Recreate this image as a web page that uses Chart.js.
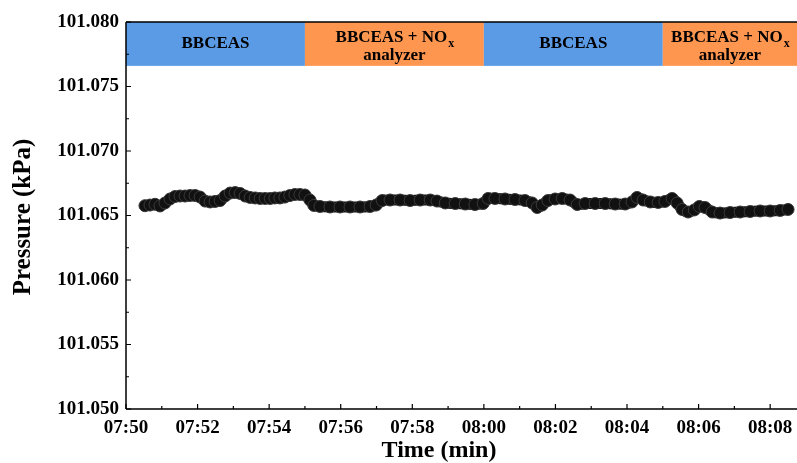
<!DOCTYPE html>
<html>
<head>
<meta charset="utf-8">
<script src="https://cdn.jsdelivr.net/npm/chart.js@4.4.0/dist/chart.umd.min.js"></script>
<style>
  html, body { margin: 0; padding: 0; background: #fff; }
  #wrap { width: 797px; height: 463px; }
</style>
</head>
<body>
<div id="wrap"><canvas id="myChart"></canvas></div>
<script>
// time in minutes after 07:50
var times = [0.53,0.67,0.81,0.95,1.09,1.23,1.37,1.51,1.65,1.79,
             1.93,2.07,2.21,2.35,2.49,2.63,2.77,2.91,3.05,3.19,
             3.33,3.47,3.61,3.75,3.89,4.03,4.16,4.30,4.44,4.58,
             4.72,4.86,5.00,5.14,5.25,5.42,5.70,5.98,6.26,6.54,
             6.82,6.99,7.16,7.38,7.66,7.94,8.22,8.50,8.69,8.92,
             9.20,9.48,9.75,9.98,10.12,10.31,10.59,10.87,11.15,11.35,
             11.49,11.63,11.79,11.99,12.19,12.41,12.61,12.83,13.11,13.39,
             13.67,13.95,14.14,14.28,14.45,14.65,14.87,15.06,15.26,15.40,
             15.54,15.71,15.88,16.02,16.18,16.38,16.60,16.88,17.16,17.44,
             17.72,18.00,18.28,18.50];
// pressure (kPa)
var pressure = [101.06576,101.06581,101.06587,101.06574,101.06597,101.06628,101.06647,101.06651,101.06651,101.06655,
                101.06655,101.06643,101.06612,101.06605,101.06609,101.06616,101.06651,101.06674,101.06678,101.06671,
                101.06651,101.06640,101.06636,101.06632,101.06632,101.06632,101.06636,101.06636,101.06643,101.06655,
                101.06663,101.06663,101.06659,101.06620,101.06578,101.06570,101.06566,101.06566,101.06566,101.06566,
                101.06570,101.06581,101.06616,101.06620,101.06620,101.06616,101.06620,101.06620,101.06612,101.06597,
                101.06593,101.06589,101.06585,101.06593,101.06632,101.06632,101.06628,101.06624,101.06616,101.06597,
                101.06562,101.06581,101.06616,101.06628,101.06632,101.06620,101.06585,101.06593,101.06593,101.06593,
                101.06589,101.06589,101.06605,101.06640,101.06620,101.06605,101.06601,101.06609,101.06632,101.06597,
                101.06547,101.06527,101.06543,101.06570,101.06562,101.06527,101.06519,101.06523,101.06527,101.06531,
                101.06535,101.06535,101.06539,101.06547];

// instrument periods (minutes after 07:50)
var periodStart = [0, 5, 10, 15];
var periodEnd = [5, 10, 15, 18.75];
var periodLabel = ['BBCEAS', 'BBCEAS + NO', 'BBCEAS', 'BBCEAS + NO'];
var periodSub = ['', 'x', '', 'x'];
var periodLine2 = ['', 'analyzer', '', 'analyzer'];
var periodColor = ['#5b9be6', '#ff9650', '#5b9be6', '#ff9650'];

var FONT = "'Liberation Serif', 'Times New Roman', serif";

function fmtTime(v) {
  var m = 50 + v;
  var h = 7 + Math.floor(m / 60);
  m = m % 60;
  return (h < 10 ? '0' : '') + h + ':' + (m < 10 ? '0' : '') + m;
}

var points = times.map(function (t, i) { return {x: t, y: pressure[i]}; });

var decor = {
  id: 'decor',
  beforeDatasetsDraw: function (chart) {
    var c = chart.ctx, xs = chart.scales.x, ys = chart.scales.y, a = chart.chartArea;
    var top = a.top, bot = ys.getPixelForValue(101.0766);
    c.save();
    for (var i = 0; i < periodStart.length; i++) {
      var x0 = xs.getPixelForValue(periodStart[i]);
      var x1 = Math.min(xs.getPixelForValue(periodEnd[i]), a.right);
      c.fillStyle = periodColor[i];
      c.fillRect(x0, top, x1 - x0, bot - top);
      c.fillStyle = '#000';
      c.textBaseline = 'middle';
      var cx = (x0 + x1) / 2;
      c.font = 'bold 17px ' + FONT;
      if (periodLine2[i]) {
        var w1 = c.measureText(periodLabel[i]).width;
        c.font = 'bold 12px ' + FONT;
        var w2 = c.measureText(periodSub[i]).width;
        var sx = cx - (w1 + w2) / 2;
        c.font = 'bold 17px ' + FONT;
        c.textAlign = 'left';
        c.fillText(periodLabel[i], sx, top + 15.5);
        c.font = 'bold 12px ' + FONT;
        c.fillText(periodSub[i], sx + w1 + 1, top + 21.5);
        c.font = 'bold 17px ' + FONT;
        c.textAlign = 'center';
        c.fillText(periodLine2[i], cx, top + 34);
      } else {
        c.textAlign = 'center';
        c.fillText(periodLabel[i], cx, (top + bot) / 2);
      }
    }
    c.restore();
  },
  afterDraw: function (chart) {
    var c = chart.ctx, xs = chart.scales.x, ys = chart.scales.y, a = chart.chartArea;
    c.save();
    c.strokeStyle = '#000';
    c.lineWidth = 1.5;
    c.beginPath();
    c.moveTo(a.left, a.top); c.lineTo(a.right, a.top);
    c.moveTo(a.left, a.top); c.lineTo(a.left, a.bottom);
    c.moveTo(a.left, a.bottom); c.lineTo(a.right, a.bottom);
    c.stroke();
    c.lineWidth = 1.2;
    c.beginPath();
    // x ticks, inward
    for (var m = 0; m <= 18; m++) {
      var px = xs.getPixelForValue(m);
      var len = (m % 2 === 0) ? 5 : 3;
      c.moveTo(px, a.bottom); c.lineTo(px, a.bottom - len);
    }
    // y ticks, inward
    for (var k = 0; k <= 12; k++) {
      var v = 101.050 + k * 0.0025;
      var py = ys.getPixelForValue(v);
      var l2 = (k % 2 === 0) ? 5 : 3;
      c.moveTo(a.left, py); c.lineTo(a.left + l2, py);
    }
    c.stroke();
    // axis titles
    c.fillStyle = '#000';
    c.textAlign = 'center';
    c.textBaseline = 'middle';
    c.font = 'bold 24px ' + FONT;
    c.fillText('Time (min)', 439, 451);
    c.font = 'bold 25px ' + FONT;
    c.translate(24, 217);
    c.rotate(-Math.PI / 2);
    c.fillText('Pressure (kPa)', 0, 0);
    c.restore();
  }
};

var ctx = document.getElementById('myChart').getContext('2d');
var myChart = new Chart(ctx, {
  type: 'line',
  data: {
    datasets: [{
      data: points,
      borderColor: '#111',
      borderWidth: 11,
      borderCapStyle: 'round',
      borderJoinStyle: 'round',
      tension: 0.3,
      pointRadius: 6,
      pointBackgroundColor: '#111',
      pointBorderColor: '#3a3a3a',
      pointBorderWidth: 1,
      fill: false
    }]
  },
  options: {
    responsive: true,
    maintainAspectRatio: false,
    animation: false,
    layout: { autoPadding: false, padding: { top: 22, right: 0, left: 0, bottom: 0 } },
    plugins: {
      legend: { display: false },
      tooltip: { enabled: false }
    },
    scales: {
      x: {
        type: 'linear',
        min: 0,
        max: 18.75,
        grid: { display: false, drawTicks: false },
        border: { display: false },
        ticks: {
          stepSize: 2,
          includeBounds: false,
          maxRotation: 0,
          padding: 8,
          color: '#000',
          font: { family: FONT, size: 19, weight: 'bold' },
          callback: function (v) { return fmtTime(v); }
        },
        afterFit: function (s) { s.height = 54; s.paddingLeft = 0; s.paddingRight = 0; }
      },
      y: {
        min: 101.050,
        max: 101.080,
        grid: { display: false, drawTicks: false },
        border: { display: false },
        ticks: {
          stepSize: 0.005,
          padding: 7,
          color: '#000',
          font: { family: FONT, size: 19, weight: 'bold' },
          callback: function (v) { return v.toFixed(3); }
        },
        afterFit: function (s) { s.width = 126; s.paddingTop = 0; s.paddingBottom = 0; }
      }
    }
  },
  plugins: [decor]
});
</script>
</body>
</html>
